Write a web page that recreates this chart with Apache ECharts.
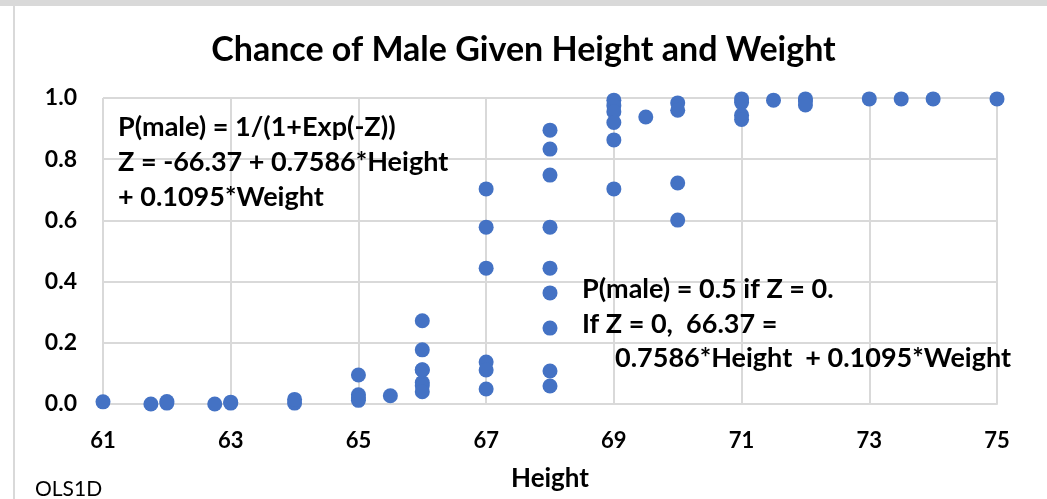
<!DOCTYPE html>
<html>
<head>
<meta charset="utf-8">
<script src="https://cdn.jsdelivr.net/npm/echarts@6/dist/echarts.min.js"></script>
<style>
html,body{margin:0;padding:0;background:#fff;}
#chart{width:1047px;height:499px;}
</style>
</head>
<body>
<div id="chart"></div>
<script>
var title = 'Chance of Male Given Height and Weight';
var xAxisName = 'Height';
var footnote = 'OLS1D';
var noteTop = ['P(male) = 1/(1+Exp(-Z))', 'Z = -66.37 + 0.7586*Height', '+ 0.1095*Weight'];
var noteMid = ['P(male) = 0.5 if Z = 0.', 'If Z = 0,  66.37 =', '0.7586*Height  + 0.1095*Weight'];
var xTicks = [61, 63, 65, 67, 69, 71, 73, 75];
var yTicks = [0, 0.2, 0.4, 0.6, 0.8, 1.0];

var heights = [
  61, 61.75, 62, 62, 62.75, 63, 63, 64, 64,
  65, 65, 65, 65, 65.5,
  66, 66, 66, 66, 66, 66, 66,
  67, 67, 67, 67, 67, 67,
  68, 68, 68, 68, 68, 68, 68, 68, 68,
  69, 69, 69, 69, 69, 69, 69.5,
  70, 70, 70, 70,
  71, 71, 71, 71, 71.5,
  72, 72, 72, 73, 73.5, 74, 75
];
var probs = [
  0.007, 0.0, 0.003, 0.008, 0.0, 0.003, 0.006, 0.003, 0.015,
  0.095, 0.03, 0.02, 0.012, 0.027,
  0.272, 0.177, 0.111, 0.07, 0.06, 0.04, 0.112,
  0.703, 0.578, 0.444, 0.137, 0.111, 0.049,
  0.895, 0.833, 0.748, 0.578, 0.444, 0.363, 0.248, 0.108, 0.059,
  0.993, 0.975, 0.955, 0.92, 0.863, 0.703, 0.938,
  0.984, 0.96, 0.722, 0.601,
  0.997, 0.985, 0.944, 0.93, 0.993,
  0.997, 0.99, 0.977, 0.997, 0.997, 0.997, 0.997
];

var points = heights.map(function (h, i) { return [h, probs[i]]; });
var FONT = 'Lato, "Open Sans", sans-serif';
var GRID = '#d9d9d9';

var chart = echarts.init(document.getElementById('chart'), null, {renderer: 'canvas'});
chart.setOption({
  animation: false,
  backgroundColor: '#ffffff',
  textStyle: {fontFamily: FONT},
  title: {
    text: title, left: 'center', top: 28,
    textStyle: {fontFamily: FONT, fontSize: 34, fontWeight: 'bold', color: '#000'}
  },
  grid: {left: 103, right: 50, top: 98, bottom: 95, containLabel: false},
  xAxis: {
    type: 'value', min: 61, max: 75, interval: 1,
    name: xAxisName, nameLocation: 'middle', nameGap: 62,
    nameTextStyle: {fontFamily: FONT, fontSize: 26, fontWeight: 'bold', color: '#000'},
    axisLine: {show: true, lineStyle: {color: GRID, width: 2}},
    axisTick: {show: false},
    splitLine: {show: false},
    axisLabel: {
      margin: 26, fontFamily: FONT, fontSize: 22, fontWeight: 'bold', color: '#000',
      formatter: function (v) { return xTicks.indexOf(v) >= 0 ? String(v) : ''; }
    }
  },
  yAxis: {
    type: 'value', min: 0, max: 1, interval: 0.2,
    axisLine: {show: false},
    axisTick: {show: false},
    splitLine: {show: true, lineStyle: {color: GRID, width: 2}},
    axisLabel: {
      margin: 26, fontFamily: FONT, fontSize: 23, fontWeight: 'bold', color: '#000',
      formatter: function (v) { return v.toFixed(1); }
    }
  },
  series: [
    {
      type: 'scatter', data: [], silent: true,
      markLine: {
        silent: true, symbol: ['none', 'none'], animation: false,
        label: {show: false},
        lineStyle: {color: GRID, width: 2, type: 'solid'},
        data: xTicks.map(function (t) { return {xAxis: t}; })
      },
      z: 1
    },
    {
      type: 'scatter', data: points, symbol: 'circle', symbolSize: 15,
      itemStyle: {color: '#4472C4', opacity: 1}, z: 5
    }
  ],
  graphic: [
    {type: 'rect', left: 0, top: 0, shape: {width: 1047, height: 6}, style: {fill: GRID}, silent: true},
    {type: 'rect', left: 13, top: 6, shape: {width: 2, height: 493}, style: {fill: GRID}, silent: true},
    {type: 'text', left: 118, top: 110, style: {text: noteTop.join('\n'), font: 'bold 27px ' + FONT, fill: '#000', lineHeight: 35}, z: 10},
    {type: 'text', left: 582, top: 272, style: {text: noteMid[0] + '\n' + noteMid[1], font: 'bold 27px ' + FONT, fill: '#000', lineHeight: 35}, z: 10},
    {type: 'text', left: 615, top: 341, style: {text: noteMid[2], font: 'bold 27px ' + FONT, fill: '#000', lineHeight: 35}, z: 10},
    {type: 'text', left: 35, top: 479, style: {text: footnote, font: '21px ' + FONT, fill: '#000'}, z: 10}
  ]
});
</script>
</body>
</html>
